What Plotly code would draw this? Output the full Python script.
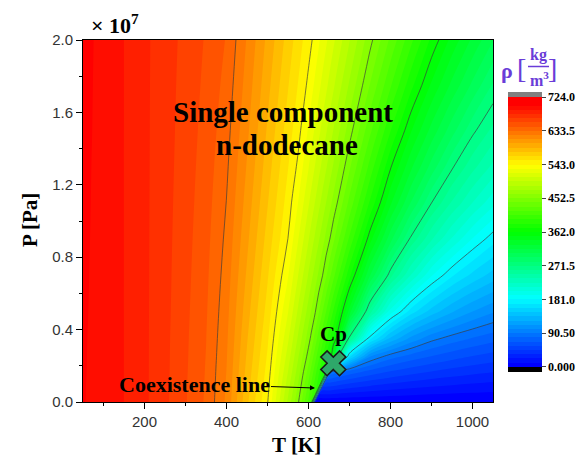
import plotly.graph_objects as go

# ---------------- data ----------------
# temperature columns (K) and pressure rows (Pa)
T_K = [50, 100, 150, 200, 250, 300, 350, 400, 450, 500, 550, 575, 600, 607, 616,
       625, 634, 643, 652, 661, 670, 700, 750, 800, 850, 900, 950, 1000, 1050]
P_Pa = [0, 0.42e6, 0.845e6, 1.27e6, 1.69e6, 2.5e6, 3.5e6, 5e6, 7e6, 9e6,
        11e6, 13e6, 15e6, 17.5e6, 20e6]

# density rho [kg/m3] along each pressure row (one value per temperature column)
rho_P0_00 = [702, 697, 690, 681, 670, 657, 643, 620, 579.5, 543.9, 484.0, 453.7, 415.9, 405.2, 0.5,
             0.5, 0.5, 0.5, 0.5, 0.5, 0.5, 0.5, 0.5, 0.5, 0.5, 0.5, 0.5, 0.5, 0.5]
rho_P0_42 = [702.1, 697, 690, 681, 670.1, 657.1, 643.3, 620.5, 580.8, 545.5, 487.6, 457.7, 421.0, 410.3, 396.6,
             22.5, 22.5, 22.5, 22.2, 21.5, 20.7, 18.7, 16.0, 14.0, 12.5, 11.2, 10.2, 9.4, 8.6]
rho_P0_85 = [702.1, 697, 690, 681, 670.1, 657.3, 643.5, 621, 582.1, 547.1, 491.0, 461.7, 426.2, 415.5, 401.7,
             388.0, 45.2, 45.2, 44.7, 43.2, 41.7, 37.6, 32.2, 28.2, 25.1, 22.6, 20.5, 18.8, 17.4]
rho_P1_27 = [702.2, 697.1, 690, 681, 670.2, 657.4, 643.8, 621.5, 583.3, 548.6, 494.4, 465.5, 431.4, 420.7, 407.0,
             393.2, 379.5, 68.0, 67.2, 64.9, 62.7, 56.5, 48.4, 42.4, 37.7, 33.9, 30.9, 28.3, 26.1]
rho_P1_69 = [702.3, 697.1, 690, 681, 670.3, 657.6, 644.0, 622, 584.5, 550.1, 497.8, 469.3, 436.7, 426.0, 412.2,
             398.4, 384.7, 370.9, 89.4, 86.4, 83.5, 75.2, 64.5, 56.4, 50.2, 45.2, 41.1, 37.7, 34.8]
rho_P2_50 = [702.4, 697.1, 690, 681, 670.4, 657.9, 644.5, 623, 586.7, 552.9, 503.8, 476.1, 447.1, 436.8, 423.6,
             410.4, 397.2, 384.0, 370.8, 338.1, 276.2, 160.2, 101.5, 83.5, 74.2, 66.8, 60.8, 55.7, 51.4]
rho_P3_50 = [702.5, 697.2, 690, 681, 670.5, 658.2, 645.1, 624.2, 589.3, 556.3, 511.0, 484.2, 457.4, 449.1, 436.5,
             423.8, 411.2, 398.5, 385.9, 373.2, 357.8, 265.5, 172.7, 133.0, 109.4, 94.3, 85.1, 78.0, 72.0]
rho_P5_00 = [702.8, 697.3, 690, 681, 670.8, 658.8, 646, 626, 593.1, 561.1, 520.9, 495.5, 470.1, 463.0, 453.8,
             442.3, 430.4, 418.4, 406.5, 394.6, 382.7, 334.8, 255.0, 198.5, 164.0, 142.0, 125.7, 113.2, 103.4]
rho_P7_00 = [703.1, 697.4, 690, 681, 671.1, 659.5, 647.2, 628.4, 597.8, 567.0, 532.6, 508.9, 485.2, 478.6, 470.0,
             461.5, 453.0, 442.7, 432.4, 422.0, 411.6, 377.1, 317.0, 264.5, 225.5, 193.5, 171.2, 155.3, 142.4]
rho_P9_00 = [703.4, 697.5, 690, 681, 671.4, 660.2, 648.4, 630.8, 602.2, 572.5, 542.8, 520.7, 498.6, 492.4, 484.4,
             476.5, 468.5, 460.5, 452.6, 443.7, 434.8, 405.0, 355.4, 309.3, 268.5, 239.0, 213.5, 191.5, 174.6]
rho_P11_0 = [703.7, 697.6, 690, 681, 671.7, 660.9, 649.6, 633.2, 606.2, 577.7, 549.1, 531.2, 510.5, 504.7, 497.3,
             489.8, 482.4, 474.9, 467.5, 460.0, 452.6, 426.4, 382.7, 341.4, 304.6, 271.6, 247.3, 226.0, 207.0]
rho_P13_0 = [703.9, 697.7, 690, 681, 672.0, 661.6, 650.8, 635.6, 609.9, 582.4, 554.8, 540.3, 521.0, 515.5, 508.6,
             501.6, 494.7, 487.7, 480.7, 473.8, 466.8, 443.3, 403.3, 363.3, 330.6, 301.0, 273.4, 252.8, 234.5]
rho_P15_0 = [704.3, 697.8, 690, 681, 672.3, 662.3, 652.0, 638.0, 613.4, 586.8, 560.2, 546.9, 530.2, 525.1, 518.6,
             512.1, 505.6, 499.1, 492.5, 486.0, 479.5, 457.8, 421.5, 385.2, 351.7, 324.1, 298.8, 274.7, 256.8]
rho_P17_5 = [704.6, 697.9, 690, 681, 672.6, 663.1, 653.5, 641.0, 617.5, 591.9, 566.4, 553.6, 540.2, 535.5, 529.5,
             523.5, 517.5, 511.5, 505.5, 499.5, 493.4, 473.4, 440.6, 408.7, 376.9, 348.7, 325.1, 302.8, 281.5]
rho_P20_0 = [705, 698, 690, 681, 673, 664, 655, 644, 621.2, 596.6, 572.1, 559.8, 547.6, 544.1, 538.9,
             533.3, 527.8, 522.2, 516.7, 511.1, 505.6, 487.0, 456.2, 427.4, 399.0, 370.5, 346.6, 325.7, 305.8]

# critical point marker (T [K], P [Pa])
cp_T = [660.5]
cp_P = [2.14e6]

# tick labels
P_tick_labels = ["0.0", "0.4", "0.8", "1.2", "1.6", "2.0"]
cbar_tick_values = [0, 90.5, 181, 271.5, 362, 452.5, 543, 633.5, 724]
cbar_tick_labels = ["0.000", "90.50", "181.0", "271.5", "362.0", "452.5", "543.0", "633.5", "724.0"]

# ---------------- figure ----------------
Z = [rho_P0_00, rho_P0_42, rho_P0_85, rho_P1_27, rho_P1_69, rho_P2_50, rho_P3_50, rho_P5_00,
     rho_P7_00, rho_P9_00, rho_P11_0, rho_P13_0, rho_P15_0, rho_P17_5, rho_P20_0]

n_bands = 65


def u(s):
    return (1 + 63 * s) / n_bands


colorscale = [
    [0.0, "rgb(0,0,0)"],
    [u(0.0), "rgb(0,0,255)"],
    [u(0.25), "rgb(0,255,255)"],
    [u(0.5), "rgb(0,255,0)"],
    [u(0.75), "rgb(255,255,0)"],
    [u(0.98), "rgb(255,0,0)"],
    [u(1.0), "rgb(255,0,0)"],
    [1.0, "rgb(128,128,128)"],
]

W, H = 579, 463
ML, MR, MT, MB = 83, 86, 40, 61
PW = W - ML - MR
PH = H - MT - MB


def px_x(x):  # pixel -> paper x
    return (x - ML) / PW


def px_y(y):  # pixel -> paper y
    return (H - MB - y) / PH


fig = go.Figure()
fig.add_trace(go.Contour(
    x=T_K, y=P_Pa, z=Z,
    autocontour=False,
    contours=dict(start=0, end=724, size=11.3125, coloring="fill", showlines=False),
    line=dict(width=0),
    colorscale=colorscale,
    colorbar=dict(
        x=px_x(508), xanchor="left", xpad=0,
        y=px_y(232), yanchor="middle", ypad=0,
        lenmode="pixels", len=274, thickness=34,
        outlinewidth=0,
        tickmode="array", tickvals=cbar_tick_values,
        ticktext=["<b>%s</b>" % t for t in cbar_tick_labels],
        ticks="outside", ticklen=4, tickcolor="#444",
        tickfont=dict(family="Liberation Serif", size=12, color="black"),
    ),
    hoverinfo="skip",
))
fig.add_trace(go.Contour(
    x=T_K, y=P_Pa, z=Z,
    autocontour=False,
    contours=dict(start=90.5, end=633.5, size=90.5, coloring="none"),
    line=dict(color="rgba(60,60,60,0.85)", width=0.8),
    showscale=False, hoverinfo="skip",
))
fig.add_trace(go.Scatter(
    x=cp_T, y=cp_P, mode="markers",
    marker=dict(symbol="x", size=22, color="#2ea86a", line=dict(color="#1a1a1a", width=1.6)),
    showlegend=False, hoverinfo="skip",
))

serif = "Liberation Serif"
ann = []
ann.append(dict(xref="paper", yref="paper", x=px_x(89), y=px_y(24), xanchor="left", yanchor="middle",
                text="<b>× 10<sup>7</sup></b>", showarrow=False,
                font=dict(family=serif, size=22, color="black")))
ann.append(dict(xref="paper", yref="paper", x=px_x(282.5), y=px_y(112), xanchor="center", yanchor="middle",
                text="<b>Single component</b>", showarrow=False,
                font=dict(family=serif, size=29, color="black")))
ann.append(dict(xref="paper", yref="paper", x=px_x(287), y=px_y(145), xanchor="center", yanchor="middle",
                text="<b>n-dodecane</b>", showarrow=False,
                font=dict(family=serif, size=29, color="black")))
ann.append(dict(xref="paper", yref="paper", x=px_x(333), y=px_y(334), xanchor="center", yanchor="middle",
                text="<b>Cp</b>", showarrow=False,
                font=dict(family=serif, size=21, color="black")))
ann.append(dict(xref="paper", yref="paper", x=px_x(315), y=px_y(388),
                ax=-121, ay=-4, axref="pixel", ayref="pixel",
                text="<b>Coexistence line</b>", showarrow=True,
                arrowhead=2, arrowsize=1, arrowwidth=1, arrowcolor="black", standoff=0,
                font=dict(family=serif, size=22, color="black")))
ann.append(dict(xref="paper", yref="paper", x=px_x(296), y=px_y(445), xanchor="center", yanchor="middle",
                text="<b>T [K]</b>", showarrow=False,
                font=dict(family=serif, size=21, color="black")))
ann.append(dict(xref="paper", yref="paper", x=px_x(30), y=px_y(220), xanchor="center", yanchor="middle",
                text="<b>P [Pa]</b>", showarrow=False, textangle=-90,
                font=dict(family=serif, size=21, color="black")))
purple = "#6a3cd8"
ann.append(dict(xref="paper", yref="paper", x=px_x(507), y=px_y(70), xanchor="center", yanchor="middle",
                text="<b>ρ</b>", showarrow=False, font=dict(family=serif, size=22, color=purple)))
ann.append(dict(xref="paper", yref="paper", x=px_x(521), y=px_y(68), xanchor="center", yanchor="middle",
                text="[", showarrow=False, font=dict(family=serif, size=28, color=purple)))
ann.append(dict(xref="paper", yref="paper", x=px_x(538), y=px_y(55), xanchor="center", yanchor="middle",
                text="<b>kg</b>", showarrow=False, font=dict(family=serif, size=16, color=purple)))
ann.append(dict(xref="paper", yref="paper", x=px_x(539), y=px_y(79), xanchor="center", yanchor="middle",
                text="<b>m<sup>3</sup></b>", showarrow=False, font=dict(family=serif, size=16, color=purple)))
ann.append(dict(xref="paper", yref="paper", x=px_x(552), y=px_y(68), xanchor="center", yanchor="middle",
                text="]", showarrow=False, font=dict(family=serif, size=28, color=purple)))

shapes = [
    dict(type="line", xref="paper", yref="paper", x0=px_x(528), x1=px_x(549),
         y0=px_y(66.5), y1=px_y(66.5), line=dict(color=purple, width=1.5)),
    dict(type="rect", xref="paper", yref="paper", x0=px_x(508), x1=px_x(542),
         y0=px_y(97), y1=px_y(92), line=dict(width=0), fillcolor="rgb(128,128,128)"),
    dict(type="rect", xref="paper", yref="paper", x0=px_x(508), x1=px_x(542),
         y0=px_y(372), y1=px_y(367), line=dict(width=0), fillcolor="black"),
]

tickfont = dict(family="Liberation Sans", size=15, color="#333")
fig.update_layout(
    width=W, height=H,
    margin=dict(l=ML, r=MR, t=MT, b=MB, pad=0, autoexpand=False),
    paper_bgcolor="white", plot_bgcolor="white",
    showlegend=False,
    annotations=ann, shapes=shapes,
    xaxis=dict(range=[50, 1050], showgrid=False, zeroline=False,
               showline=True, linecolor="black", linewidth=1, mirror=True,
               tickmode="array", tickvals=[200, 400, 600, 800, 1000],
               ticks="outside", ticklen=6, tickcolor="black", tickfont=tickfont,
               minor=dict(tickmode="array", tickvals=[100, 300, 500, 700, 900],
                          ticks="outside", ticklen=3, tickcolor="black")),
    yaxis=dict(range=[0, 2e7], showgrid=False, zeroline=False,
               showline=True, linecolor="black", linewidth=1, mirror=True,
               tickmode="array", tickvals=[0, 4e6, 8e6, 12e6, 16e6, 20e6], ticktext=P_tick_labels,
               ticks="outside", ticklen=6, tickcolor="black", tickfont=tickfont,
               minor=dict(tickmode="array", tickvals=[2e6, 6e6, 10e6, 14e6, 18e6],
                          ticks="outside", ticklen=3, tickcolor="black")),
)

fig.write_html("out.html")
